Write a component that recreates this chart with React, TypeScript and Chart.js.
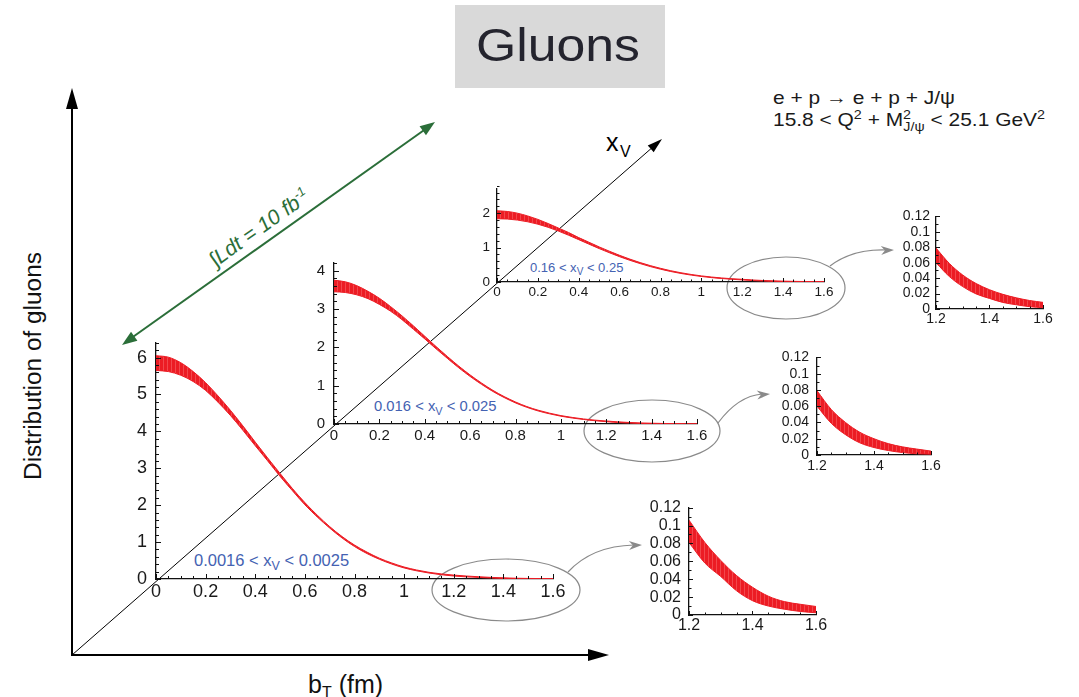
import React, { useEffect, useRef } from 'react';
import { Chart, registerables } from 'chart.js';

Chart.register(...registerables);

const FONT = '"Liberation Sans", Arial, Helvetica, sans-serif';
const RED = '#ec1c24';
const BLUE = '#4462b2';
const GREEN = '#2b6e39';
const GRAY = '#8a8a8a';

// impact parameter b_T (fm)
const bT = [0, 0.05, 0.1, 0.15, 0.2, 0.25, 0.3, 0.35, 0.4, 0.45, 0.5, 0.55, 0.6, 0.65, 0.7, 0.75, 0.8,
  0.85, 0.9, 0.95, 1.0, 1.05, 1.1, 1.15, 1.2, 1.25, 1.3, 1.35, 1.4, 1.45, 1.5, 1.55, 1.6];

// 0.0016 < x_V < 0.0025 : lower / upper edge of band
const lowA = [5.65, 5.62, 5.52, 5.35, 5.11, 4.79, 4.43, 4.03, 3.61, 3.20, 2.78, 2.39, 2.01, 1.68, 1.38, 1.11, 0.88,
  0.69, 0.535, 0.405, 0.30, 0.222, 0.162, 0.116, 0.081, 0.058, 0.043, 0.027, 0.016, 0.010, 0.0065, 0.004, 0.0025];
const highA = [6.05, 6.01, 5.86, 5.62, 5.32, 4.96, 4.57, 4.15, 3.71, 3.28, 2.86, 2.45, 2.07, 1.73, 1.42, 1.15, 0.92,
  0.73, 0.565, 0.435, 0.325, 0.245, 0.182, 0.138, 0.106, 0.081, 0.061, 0.044, 0.031, 0.021, 0.015, 0.012, 0.0095];

// 0.016 < x_V < 0.025
const lowB = [3.45, 3.43, 3.37, 3.27, 3.12, 2.94, 2.72, 2.47, 2.22, 1.96, 1.71, 1.465, 1.24, 1.035, 0.85, 0.69, 0.55,
  0.435, 0.34, 0.265, 0.203, 0.156, 0.117, 0.086, 0.060, 0.039, 0.025, 0.015, 0.0092, 0.0055, 0.003, 0.0015, 0.001];
const highB = [3.75, 3.71, 3.61, 3.46, 3.28, 3.06, 2.82, 2.56, 2.29, 2.02, 1.76, 1.51, 1.28, 1.07, 0.88, 0.715, 0.575,
  0.455, 0.36, 0.283, 0.219, 0.172, 0.132, 0.101, 0.079, 0.056, 0.040, 0.028, 0.020, 0.014, 0.010, 0.0073, 0.0048];

// 0.16 < x_V < 0.25
const lowC = [1.84, 1.83, 1.80, 1.75, 1.68, 1.59, 1.48, 1.36, 1.23, 1.10, 0.97, 0.85, 0.735, 0.63, 0.535, 0.448, 0.372,
  0.305, 0.248, 0.200, 0.160, 0.127, 0.101, 0.079, 0.060, 0.042, 0.029, 0.0195, 0.0137, 0.0085, 0.0055, 0.003, 0.0017];
const highC = [2.07, 2.05, 2.00, 1.92, 1.82, 1.70, 1.57, 1.44, 1.29, 1.155, 1.02, 0.895, 0.775, 0.665, 0.565, 0.476, 0.398,
  0.328, 0.269, 0.219, 0.178, 0.144, 0.117, 0.095, 0.079, 0.059, 0.044, 0.033, 0.025, 0.019, 0.0145, 0.011, 0.0086];

// axis ranges / tick steps
const mainX = { min: 0, max: 1.6, step: 0.2, minor: 0.05 };
const zoomX = { min: 1.2, max: 1.6, step: 0.2, minor: 0.05 };
const zoomY = { max: 0.12, step: 0.02, minor: 0.01 };
const mainYMax = [6.4, 4.2, 2.7];

const PAD = { l: 0, t: 14, r: 28, b: 0 };
const YW = 56;
const XH = 34;

type Area = { left: number; top: number; right: number; bottom: number };
type Spec = {
  key: string; area: Area;
  x: { min: number; max: number; step: number; minor: number };
  y: { max: number; step: number; minor: number };
  low: number[]; high: number[];
  font: number; yPad: number; xPad: number; majorLen: number; minorLen: number;
};

const SPECS: Spec[] = [
  { key: 'A', area: { left: 156, top: 337, right: 553, bottom: 579 }, x: mainX, y: { max: mainYMax[0], step: 1, minor: 0.2 },
    low: lowA, high: highA, font: 18, yPad: 9, xPad: 2, majorLen: 5, minorLen: 3 },
  { key: 'B', area: { left: 334, top: 258.5, right: 697, bottom: 424 }, x: mainX, y: { max: mainYMax[1], step: 1, minor: 0.2 },
    low: lowB, high: highB, font: 15, yPad: 9, xPad: 3, majorLen: 5, minorLen: 3 },
  { key: 'C', area: { left: 497, top: 188, right: 824, bottom: 282 }, x: mainX, y: { max: mainYMax[2], step: 1, minor: 0.2 },
    low: lowC, high: highC, font: 13.5, yPad: 7, xPad: 2, majorLen: 4, minorLen: 2.5 },
  { key: 'A2', area: { left: 689, top: 504, right: 816, bottom: 615 }, x: zoomX, y: zoomY,
    low: lowA, high: highA, font: 16, yPad: 8, xPad: 1, majorLen: 4, minorLen: 2.5 },
  { key: 'B2', area: { left: 817, top: 355, right: 931, bottom: 455 }, x: zoomX, y: zoomY,
    low: lowB, high: highB, font: 14, yPad: 8, xPad: 3, majorLen: 4, minorLen: 2.5 },
  { key: 'C2', area: { left: 936, top: 216, right: 1043, bottom: 309 }, x: zoomX, y: zoomY,
    low: lowC, high: highC, font: 14, yPad: 6, xPad: 2, majorLen: 4, minorLen: 2.5 },
];

const inwardTicks = {
  id: 'inwardTicks',
  afterDraw(chart: any, _args: any, opts: any) {
    const { ctx, chartArea } = chart;
    const xs = chart.scales.x;
    const ys = chart.scales.y;
    ctx.save();
    ctx.strokeStyle = '#111';
    ctx.lineWidth = 1;
    const run = (min: number, max: number, step: number, fn: (v: number) => void) => {
      const n = Math.round((max - min) / step + 1e-6);
      for (let i = 0; i <= n; i++) fn(min + i * step);
    };
    const isMajor = (v: number, min: number, step: number) => {
      const r = (v - min) / step;
      return Math.abs(r - Math.round(r)) < 1e-6;
    };
    run(xs.min, xs.max, opts.xMinor, (v) => {
      const px = Math.round(xs.getPixelForValue(v)) + 0.5;
      const len = isMajor(v, xs.min, opts.xStep) ? opts.majorLen : opts.minorLen;
      ctx.beginPath();
      ctx.moveTo(px, chartArea.bottom);
      ctx.lineTo(px, chartArea.bottom - len);
      ctx.stroke();
    });
    run(ys.min, ys.max, opts.yMinor, (v) => {
      const py = Math.round(ys.getPixelForValue(v)) + 0.5;
      const len = isMajor(v, ys.min, opts.yStep) ? opts.majorLen : opts.minorLen;
      ctx.beginPath();
      ctx.moveTo(chartArea.left, py);
      ctx.lineTo(chartArea.left + len, py);
      ctx.stroke();
    });
    ctx.restore();
  },
};

function frame(a: Area) {
  const left = a.left - PAD.l - YW;
  const top = a.top - PAD.t;
  const width = a.right + PAD.r - left;
  const height = a.bottom + XH + PAD.b - top;
  return { left, top, width, height };
}

const fmt = (v: any) => String(Math.round(Number(v) * 1000) / 1000);

function Panel({ spec }: { spec: Spec }) {
  const ref = useRef<HTMLCanvasElement | null>(null);
  const f = frame(spec.area);
  useEffect(() => {
    const canvas = ref.current;
    if (!canvas) return;
    const pc = document.createElement('canvas');
    pc.width = 4; pc.height = 4;
    const pctx = pc.getContext('2d')!;
    pctx.fillStyle = RED;
    pctx.fillRect(0, 0, 4, 4);
    pctx.fillStyle = '#f2474c';
    pctx.fillRect(3, 0, 1, 4);
    const pattern = canvas.getContext('2d')!.createPattern(pc, 'repeat');
    const pts = (arr: number[]) => bT.map((b, i) => ({ x: b, y: arr[i] })).filter((p) => p.x >= spec.x.min - 1e-9);
    const tickFont = { family: FONT, size: spec.font };
    const chart = new Chart(canvas, {
      type: 'line',
      data: {
        datasets: [
          { data: pts(spec.low), borderColor: RED, borderWidth: 1, pointRadius: 0, fill: false, cubicInterpolationMode: 'monotone' },
          { data: pts(spec.high), borderColor: RED, borderWidth: 1, pointRadius: 0, fill: '-1', backgroundColor: pattern as any, cubicInterpolationMode: 'monotone' },
        ],
      },
      options: {
        animation: false,
        responsive: false,
        maintainAspectRatio: false,
        events: [],
        layout: { padding: { left: PAD.l, top: PAD.t, right: PAD.r, bottom: PAD.b } },
        plugins: {
          legend: { display: false },
          tooltip: { enabled: false },
          inwardTicks: {
            xMinor: spec.x.minor, xStep: spec.x.step, yMinor: spec.y.minor, yStep: spec.y.step,
            majorLen: spec.majorLen, minorLen: spec.minorLen,
          },
        } as any,
        scales: {
          x: {
            type: 'linear', min: spec.x.min, max: spec.x.max,
            grid: { display: false, drawTicks: false },
            border: { display: true, color: '#111', width: 1.3 },
            ticks: { stepSize: spec.x.step, font: tickFont, color: '#1a1a1a', padding: spec.xPad, autoSkip: false, maxRotation: 0, includeBounds: false, callback: fmt },
            afterFit: (s: any) => { s.height = XH; },
          },
          y: {
            type: 'linear', min: 0, max: spec.y.max,
            grid: { display: false, drawTicks: false },
            border: { display: true, color: '#111', width: 1.3 },
            ticks: { stepSize: spec.y.step, font: tickFont, color: '#1a1a1a', padding: spec.yPad, autoSkip: false, includeBounds: false, callback: fmt },
            afterFit: (s: any) => { s.width = YW; },
          },
        },
      } as any,
      plugins: [inwardTicks as any],
    });
    return () => chart.destroy();
  }, []);
  return (
    <div style={{ position: 'absolute', left: f.left, top: f.top, width: f.width, height: f.height }}>
      <canvas ref={ref} width={f.width} height={f.height} style={{ display: 'block', width: f.width, height: f.height }} />
    </div>
  );
}

function head(tx: number, ty: number, fx: number, fy: number, len: number, hw: number, notch = 0) {
  const dx = tx - fx, dy = ty - fy;
  const L = Math.hypot(dx, dy);
  const ux = dx / L, uy = dy / L;
  const bx = tx - ux * len, by = ty - uy * len;
  const nx = tx - ux * len * (1 - notch), ny = ty - uy * len * (1 - notch);
  return `${tx},${ty} ${bx - uy * hw},${by + ux * hw} ${nx},${ny} ${bx + uy * hw},${by - ux * hw}`;
}

function Decor() {
  const diag = { x1: 72, y1: 655, x2: 662, y2: 139 };
  const green = { x1: 122, y1: 345, x2: 435, y2: 122 };
  const gAng = (Math.atan2(green.y2 - green.y1, green.x2 - green.x1) * 180) / Math.PI;
  const curves = [
    { sx: 568, sy: 572, cx: 592, cy: 546, ex: 642, ey: 545 },
    { sx: 718, sy: 423, cx: 738, cy: 396, ex: 770, ey: 394 },
    { sx: 830, sy: 266, cx: 852, cy: 249, ex: 894, ey: 250 },
  ];
  return (
    <svg width={1079} height={697} style={{ position: 'absolute', left: 0, top: 0 }} fontFamily={FONT}>
      <rect x={455} y={5} width={210} height={83} fill="#d9d9d9" />
      <text x={476} y={61} fontSize={47} fill="#24242e" textLength={164} lengthAdjust="spacingAndGlyphs">Gluons</text>

      {/* big axes */}
      <line x1={72} y1={656} x2={72} y2={106} stroke="#000" strokeWidth={2} />
      <polygon points={head(72, 88, 72, 656, 21, 6)} fill="#000" />
      <line x1={71} y1={655} x2={590} y2={655} stroke="#000" strokeWidth={2} />
      <polygon points={head(609, 655, 72, 655, 21, 6)} fill="#000" />
      <line x1={diag.x1} y1={diag.y1} x2={diag.x2 - 8} y2={diag.y2 + 7} stroke="#000" strokeWidth={1} />
      <polygon points={head(diag.x2, diag.y2, diag.x1, diag.y1, 15, 4.5)} fill="#000" />
      <text x={606} y={151} fontSize={25} fill="#000">x</text>
      <text x={620} y={157} fontSize={16} fill="#000">V</text>

      {/* luminosity arrow */}
      <line x1={green.x1 + 8} y1={green.y1 - 6} x2={green.x2 - 8} y2={green.y2 + 6} stroke={GREEN} strokeWidth={2} />
      <polygon points={head(green.x1, green.y1, green.x2, green.y2, 15, 5.5)} fill={GREEN} />
      <polygon points={head(green.x2, green.y2, green.x1, green.y1, 15, 5.5)} fill={GREEN} />
      <g transform={`translate(268,240) rotate(${gAng})`}>
        <text x={0} y={-8} fontSize={21} fontStyle="italic" fill={GREEN} textAnchor="middle">
          {'\u222BLdt = 10 fb'}<tspan dy={-8} fontSize={13}>-1</tspan>
        </text>
      </g>

      {/* ellipses */}
      <ellipse cx={506} cy={590} rx={74} ry={31} fill="none" stroke={GRAY} strokeWidth={1.2} />
      <ellipse cx={652} cy={431} rx={68} ry={31} fill="none" stroke={GRAY} strokeWidth={1.2} />
      <ellipse cx={786} cy={288} rx={59} ry={31} fill="none" stroke={GRAY} strokeWidth={1.2} />
      {curves.map((c, i) => (
        <g key={i}>
          <path d={`M${c.sx},${c.sy} Q${c.cx},${c.cy} ${c.ex - 8},${c.ey}`} fill="none" stroke={GRAY} strokeWidth={1.2} />
          <polygon points={head(c.ex, c.ey, c.cx + 20, c.ey + 1, 13, 4.5, 0.3)} fill={GRAY} />
        </g>
      ))}

      {/* panel labels */}
      <text x={194} y={566} fontSize={16.5} fill={BLUE}>
        {'0.0016 < x'}<tspan dy={4} fontSize={12.5}>V</tspan><tspan dy={-4}>{' < 0.0025'}</tspan>
      </text>
      <text x={374} y={411} fontSize={14.8} fill={BLUE}>
        {'0.016 < x'}<tspan dy={3.5} fontSize={11}>V</tspan><tspan dy={-3.5}>{' < 0.025'}</tspan>
      </text>
      <text x={530} y={272} fontSize={13} fill={BLUE}>
        {'0.16 < x'}<tspan dy={3} fontSize={10}>V</tspan><tspan dy={-3}>{' < 0.25'}</tspan>
      </text>

      {/* process text */}
      <text x={773} y={104} fontSize={19} fill="#1a1a1a" textLength={182} lengthAdjust="spacingAndGlyphs">{'e + p \u2192 e + p + J/\u03C8'}</text>
      <text x={773} y={126} fontSize={19} fill="#1a1a1a" textLength={272} lengthAdjust="spacingAndGlyphs">
        {'15.8 < Q'}<tspan dy={-7} fontSize={13}>2</tspan>
        <tspan dy={7}>{' + M'}</tspan>
        <tspan dy={-7} fontSize={13}>2</tspan>
        <tspan dx={-7} dy={12} fontSize={13}>{'J/\u03C8'}</tspan>
        <tspan dy={-5}>{' < 25.1 GeV'}</tspan>
        <tspan dy={-7} fontSize={13}>2</tspan>
      </text>

      {/* axis titles */}
      <text transform="translate(41,366) rotate(-90)" fontSize={23} fill="#111" textAnchor="middle" textLength={228} lengthAdjust="spacingAndGlyphs">
        Distribution of gluons
      </text>
      <text x={308} y={693} fontSize={25} fill="#111">
        b<tspan dy={5} fontSize={16}>T</tspan><tspan dy={-5}>{' (fm)'}</tspan>
      </text>
    </svg>
  );
}

export default function App() {
  return (
    <div style={{ position: 'absolute', left: 0, top: 0, width: 1079, height: 697, background: '#fff', overflow: 'hidden', fontFamily: FONT }}>
      <Decor />
      {SPECS.map((s) => <Panel key={s.key} spec={s} />)}
    </div>
  );
}
